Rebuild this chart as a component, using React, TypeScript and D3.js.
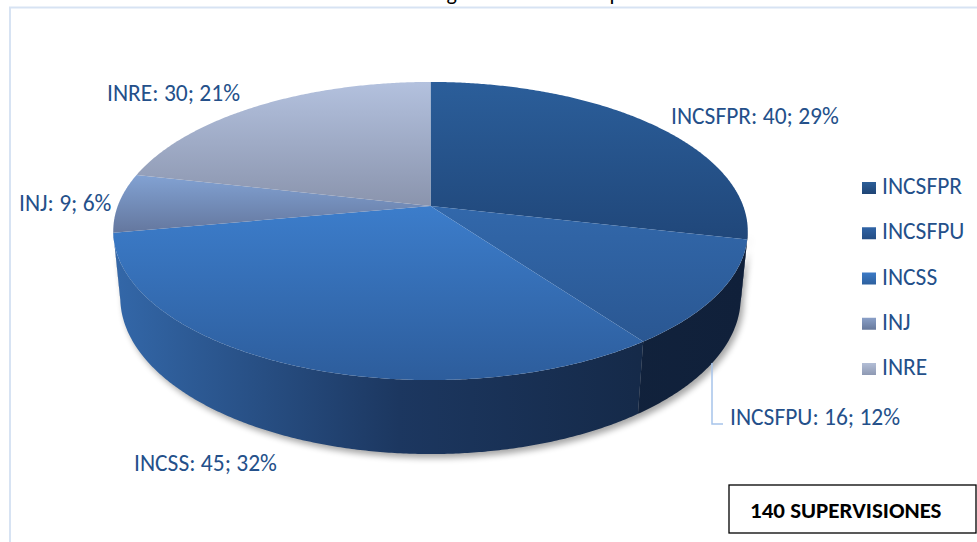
import React from 'react';
import * as d3 from 'd3';

// ---- data ----
const CATEGORIES = ['INCSFPR', 'INCSFPU', 'INCSS', 'INJ', 'INRE'];
const VALUES = [40, 16, 45, 9, 30];
const PERCENT_LABELS = ['29%', '12%', '32%', '6%', '21%'];
const TITLE = 'Gráfico N° 1: Programa anual de supervisiones';
const TOTAL_TEXT = '140 SUPERVISIONES';

// ---- styles ----
const TOP_COLORS: [string, string][] = [
  ['#2b5e9a', '#20477a'],
  ['#3268ab', '#2a5792'],
  ['#3c7dcb', '#2d5d9c'],
  ['#82a2d3', '#64779e'],
  ['#b3c1de', '#8a94ad'],
];
const SIDE_COLORS: [string, string, string][] = [
  ['#1a3354', '#14273f', '#10203a'],
  ['#1a3354', '#13253f', '#10203a'],
  ['#3367a8', '#1c3760', '#12243f'],
  ['#4a5f86', '#3c4f72', '#2e3f5e'],
  ['#6a7690', '#5a6680', '#4a5670'],
];
const LEGEND_COLORS: [string, string][] = [
  ['#2c5e98', '#1f4474'],
  ['#3064a6', '#244d84'],
  ['#3c7ac6', '#2d609e'],
  ['#8aa0c8', '#67799c'],
  ['#b3bed6', '#8e99b3'],
];
const TEXT_COLOR = '#24508a';
const FONT = "Carlito, Calibri, Lato, 'Open Sans', sans-serif";

// ---- layout ----
const W = 977;
const H = 542;
const CX = 430.5;
const CY = 206;
const PHI = (28 * Math.PI) / 180;
const SIN = Math.sin(PHI);
const COS = Math.cos(PHI);
const DIST = 5.263;
const FX = 1646;
const FY = 1624;
const THICK = 0.246;

const LABEL_POS: [number, number][] = [
  [671, 124],
  [730, 425],
  [134, 471],
  [19, 211],
  [107, 101],
];

function project(theta: number, r = 1, h = 0): [number, number] {
  const X = r * Math.sin(theta);
  const Z = r * Math.cos(theta);
  const Y = -h;
  const yc = Y * COS + Z * SIN;
  const dz = -Y * SIN + Z * COS + DIST;
  return [CX + (FX * X) / dz, CY - (FY * yc) / dz];
}

function arcPoints(a0: number, a1: number, h: number): [number, number][] {
  const n = Math.max(2, Math.ceil(Math.abs(a1 - a0) / 0.008));
  const pts: [number, number][] = [];
  for (let i = 0; i <= n; i++) pts.push(project(a0 + ((a1 - a0) * i) / n, 1, h));
  return pts;
}

const line = d3.line();

export default function App() {
  const pie = d3
    .pie<number>()
    .sort(null)
    .startAngle(0)
    .endAngle(2 * Math.PI)
    .value((d) => d);
  const arcs = pie(VALUES);

  // silhouette limbs (visible side wall range)
  let tMax = 0;
  let tMin = 0;
  let xMax = -Infinity;
  let xMin = Infinity;
  for (let t = 0; t < 2 * Math.PI; t += 0.0005) {
    const [x] = project(t, 1, THICK / 2);
    if (x > xMax) {
      xMax = x;
      tMax = t;
    }
    if (x < xMin) {
      xMin = x;
      tMin = t;
    }
  }

  const apex = project(0, 0, 0);

  const topPaths = arcs.map((a) => {
    const pts = [apex, ...arcPoints(a.startAngle, a.endAngle, 0)];
    return line(pts) + 'Z';
  });

  const sidePaths = arcs.map((a) => {
    const b0 = Math.max(a.startAngle, tMax);
    const b1 = Math.min(a.endAngle, tMin);
    if (b1 <= b0) return null;
    const top = arcPoints(b0, b1, 0);
    const bot = arcPoints(b1, b0, THICK);
    return line([...top, ...bot]) + 'Z';
  });

  const shadowPath =
    line([...arcPoints(tMax, tMin, 0), ...arcPoints(tMin, tMax, THICK)]) + 'Z';

  const legendY = d3
    .scalePoint<string>()
    .domain(CATEGORIES)
    .range([194, 375]);

  return (
    <svg
      width={W}
      height={H}
      style={{ position: 'absolute', left: 0, top: 0, background: '#fff' }}
    >
      <defs>
        {TOP_COLORS.map((c, i) => (
          <linearGradient key={'t' + i} id={'top' + i} x1="0" y1="0" x2="0" y2="1">
            <stop offset="0" stopColor={c[0]} />
            <stop offset="1" stopColor={c[1]} />
          </linearGradient>
        ))}
        {SIDE_COLORS.map((c, i) => (
          <linearGradient
            key={'s' + i}
            id={'side' + i}
            gradientUnits="userSpaceOnUse"
            x1={xMin}
            y1="0"
            x2={xMax}
            y2="0"
          >
            <stop offset="0" stopColor={c[0]} />
            <stop offset="0.45" stopColor={c[1]} />
            <stop offset="1" stopColor={c[2]} />
          </linearGradient>
        ))}
        {LEGEND_COLORS.map((c, i) => (
          <linearGradient key={'l' + i} id={'leg' + i} x1="0" y1="0" x2="0" y2="1">
            <stop offset="0" stopColor={c[0]} />
            <stop offset="1" stopColor={c[1]} />
          </linearGradient>
        ))}
        <filter id="blur" x="-10%" y="-10%" width="120%" height="130%">
          <feGaussianBlur stdDeviation="3" />
        </filter>
      </defs>

      <rect x={0} y={0} width={W} height={H} fill="#fff" />
      {/* chart area border */}
      <rect
        x={10}
        y={7.5}
        width={W + 20}
        height={H + 20}
        fill="none"
        stroke="#d7e3f3"
        strokeWidth={2}
      />
      {/* title (cut off at the top, as in the reference) */}
      <text
        x={505}
        y={-0.5}
        textAnchor="middle"
        fontFamily={FONT}
        fontSize={22}
        fill="#000"
      >
        {TITLE}
      </text>

      {/* shadow */}
      <path
        d={shadowPath}
        transform="translate(3,4)"
        fill="#000"
        opacity={0.35}
        filter="url(#blur)"
      />

      {/* side walls */}
      {sidePaths.map((d, i) =>
        d ? <path key={'side' + i} d={d} fill={`url(#side${i})`} /> : null
      )}

      {/* top faces */}
      {topPaths.map((d, i) => (
        <path key={'top' + i} d={d} fill={`url(#top${i})`} />
      ))}

      {/* leader line for INCSFPU */}
      <path
        d={d3.line()([
          [712, 363],
          [712, 424],
          [723, 424],
        ]) as string}
        fill="none"
        stroke="#a6c4ea"
        strokeWidth={1.5}
      />

      {/* data labels */}
      {CATEGORIES.map((c, i) => (
        <text
          key={'lab' + i}
          x={LABEL_POS[i][0]}
          y={LABEL_POS[i][1]}
          fontFamily={FONT}
          fontSize={23.5}
          fill={TEXT_COLOR}
        >
          {`${c}: ${VALUES[i]}; ${PERCENT_LABELS[i]}`}
        </text>
      ))}

      {/* legend */}
      {CATEGORIES.map((c, i) => (
        <g key={'leg' + i} transform={`translate(0,${legendY(c)})`}>
          <rect x={862} y={-12} width={14} height={12} fill={`url(#leg${i})`} />
          <text x={882} y={0} fontFamily={FONT} fontSize={23.5} fill={TEXT_COLOR}>
            {c}
          </text>
        </g>
      ))}

      {/* total box */}
      <rect
        x={729}
        y={485}
        width={247}
        height={48}
        fill="#fff"
        stroke="#000"
        strokeWidth={1.3}
      />
      <text
        x={750}
        y={518}
        fontFamily={FONT}
        fontSize={23}
        fontWeight="bold"
        fill="#000"
      >
        {TOTAL_TEXT}
      </text>
    </svg>
  );
}
